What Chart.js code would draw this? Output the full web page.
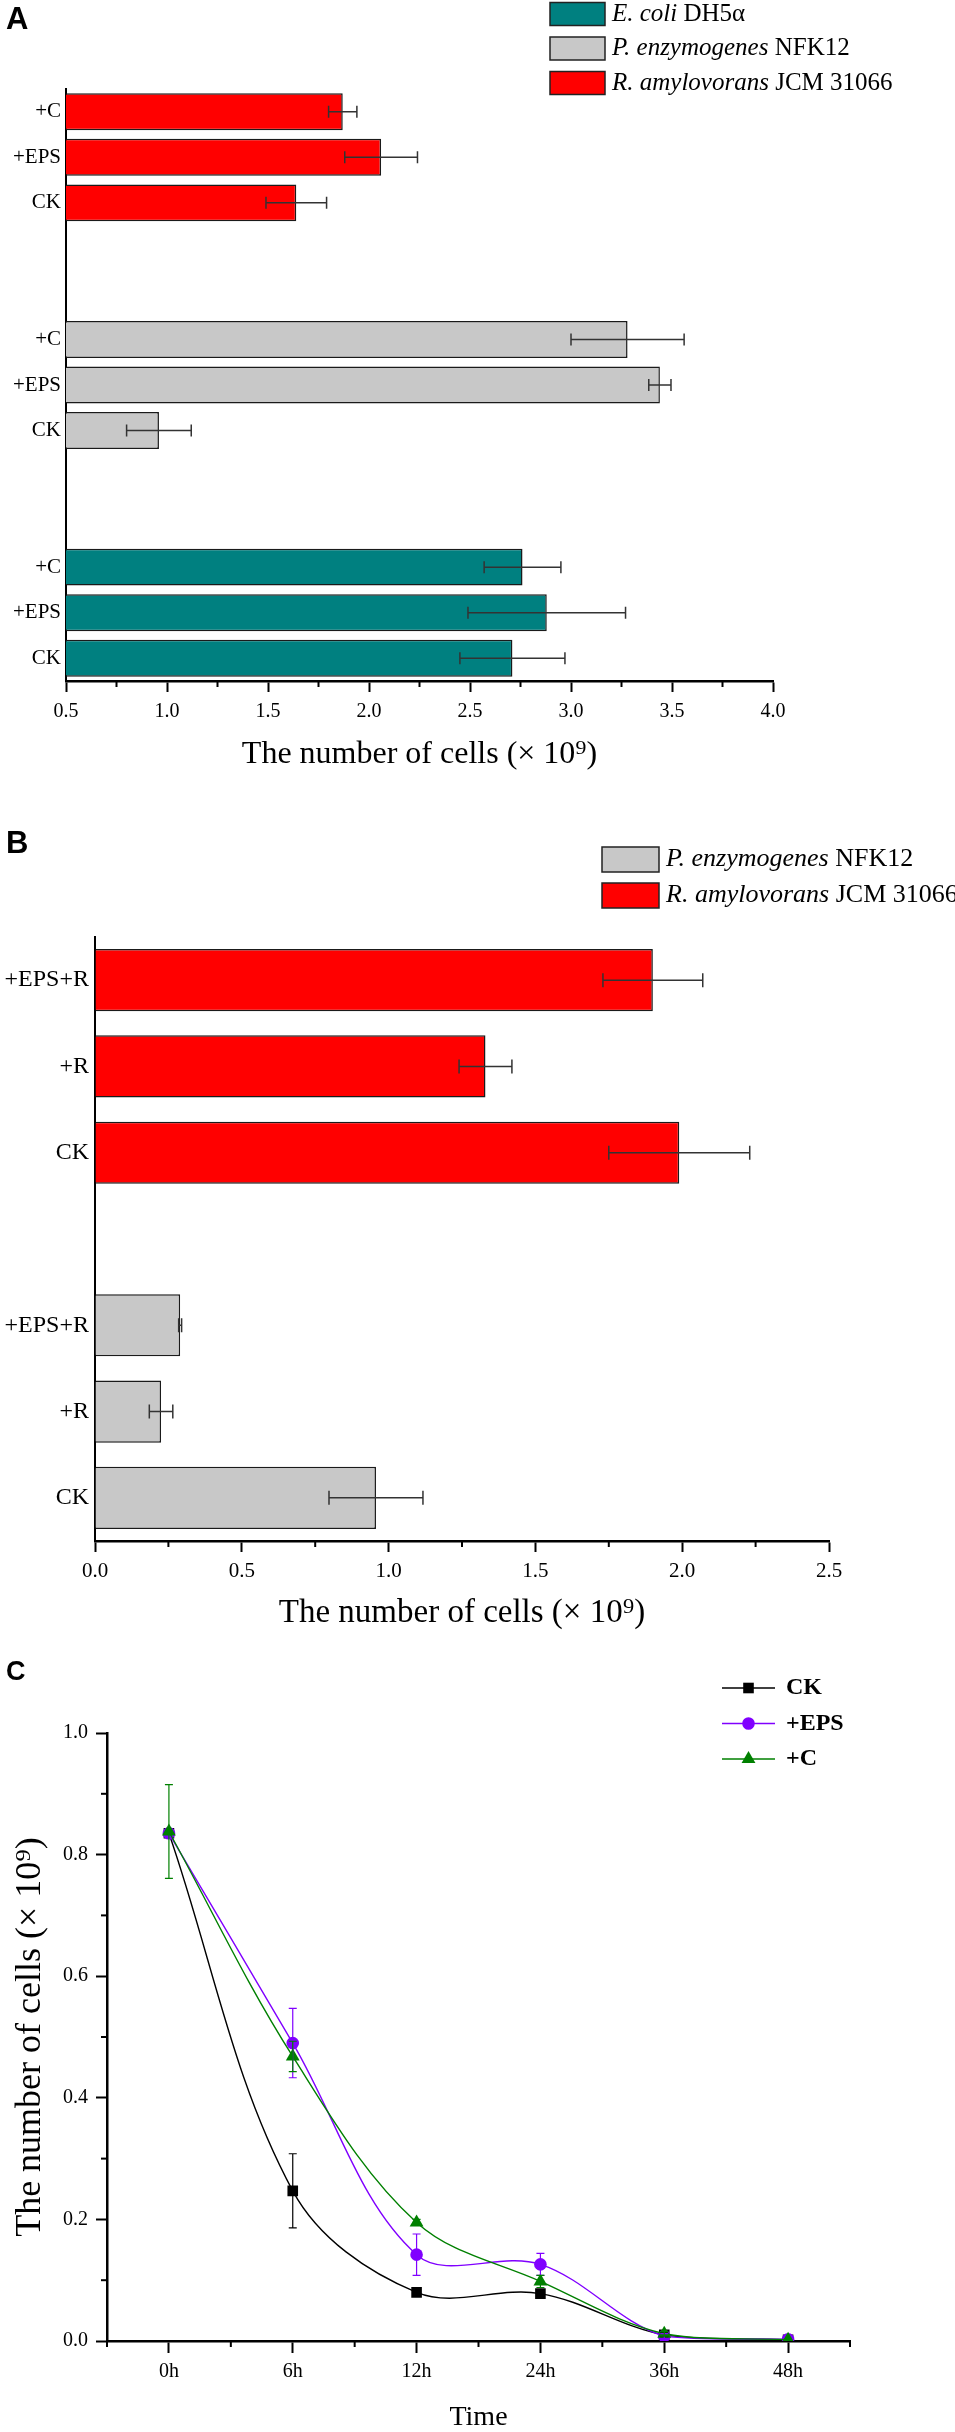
<!DOCTYPE html>
<html>
<head>
<meta charset="utf-8">
<script src="https://cdn.jsdelivr.net/npm/chart.js@4.4.1/dist/chart.umd.min.js"></script>
<style>
  body { margin: 0; background: #fff; width: 955px; height: 2432px; position: relative; overflow: hidden; }
  .panel { position: absolute; left: 0; }
  .panel canvas { display: block; }
  .tag { position: absolute; left: 6px; font-family: 'Liberation Sans', Arial, sans-serif; font-weight: bold; line-height: 1; color: #000; }
</style>
</head>
<body>
<div class="panel" style="top:0px"><canvas id="chartA" width="955" height="800"></canvas></div>
<div class="panel" style="top:800px"><canvas id="chartB" width="955" height="850"></canvas></div>
<div class="panel" style="top:1650px"><canvas id="chartC" width="955" height="782"></canvas></div>
<div class="tag" style="top:3px;font-size:31px">A</div>
<div class="tag" style="top:827px;font-size:31px">B</div>
<div class="tag" style="top:1658px;font-size:27px">C</div>
<script>
// --- 1. DATA ---
const nameEcoli = ['E. coli', ' DH5α'];
const nameEnzy = ['P. enzymogenes', ' NFK12'];
const nameAmylo = ['R. amylovorans', ' JCM 31066'];

// panel A, treatments listed top to bottom inside each strain group
const treatA = ['+C', '+EPS', 'CK'];
const amyloA = [1.87, 2.06, 1.64];
const amyloAErr = [0.07, 0.18, 0.15];
const enzyA = [3.28, 3.44, 0.96];
const enzyAErr = [0.28, 0.055, 0.16];
const ecoliA = [2.76, 2.88, 2.71];
const ecoliAErr = [0.19, 0.39, 0.26];
const xTicksA = [0.5, 1.0, 1.5, 2.0, 2.5, 3.0, 3.5, 4.0];

// panel B
const treatB = ['+EPS+R', '+R', 'CK'];
const amyloB = [1.90, 1.33, 1.99];
const amyloBErr = [0.17, 0.09, 0.24];
const enzyB = [0.29, 0.225, 0.957];
const enzyBErr = [0.005, 0.04, 0.16];
const xTicksB = [0.0, 0.5, 1.0, 1.5, 2.0, 2.5];

// panel C
const hours = ['0h', '6h', '12h', '24h', '36h', '48h'];
const ckC = [0.835, 0.247, 0.080, 0.078, 0.010, 0.002];
const ckCErr = [0, 0.061, 0.005, 0.005, 0.003, 0];
const epsC = [0.835, 0.490, 0.142, 0.126, 0.008, 0.003];
const epsCErr = [0, 0.057, 0.034, 0.018, 0.004, 0];
const cC = [0.838, 0.468, 0.195, 0.098, 0.012, 0.002];
const cCErr = [0.077, 0.025, 0.005, 0.010, 0.004, 0];
const yTicksC = [0.0, 0.2, 0.4, 0.6, 0.8, 1.0];

const SERIF = '"Liberation Serif", "Times New Roman", serif';
Chart.defaults.color = '#000';
Chart.defaults.font.family = SERIF;
const serif = (size, extra) => Object.assign({ family: SERIF, size: size }, extra || {});

// --- 2. HELPERS ---
// spread strain groups over category slots with empty slots in between
function buildSlots(treat, groups, gap) {
  const labels = [];
  const series = groups.map(() => ({ data: [], err: [] }));
  groups.forEach((g, gi) => {
    if (gi > 0) {
      for (let k = 0; k < gap; k++) {
        labels.push('');
        series.forEach(s => { s.data.push(null); s.err.push(null); });
      }
    }
    treat.forEach((t, ti) => {
      labels.push(t);
      series.forEach((s, si) => {
        s.data.push(si === gi ? g.values[ti] : null);
        s.err.push(si === gi ? g.errors[ti] : null);
      });
    });
  });
  return { labels, series };
}

const errorBars = {
  id: 'errorBars',
  afterDatasetsDraw(chart, args, o) {
    const ctx = chart.ctx;
    const horiz = chart.options.indexAxis === 'y';
    const vScale = horiz ? chart.scales.x : chart.scales.y;
    chart.data.datasets.forEach((ds, di) => {
      if (!ds.errors) return;
      const meta = chart.getDatasetMeta(di);
      ctx.save();
      ctx.strokeStyle = ds.errorColor || '#333';
      ctx.lineWidth = o.width || 1.5;
      meta.data.forEach((el, i) => {
        const v = ds.data[i], e = ds.errors[i];
        if (v == null || !e) return;
        const lo = vScale.getPixelForValue(v - e);
        const hi = vScale.getPixelForValue(v + e);
        const c = horiz ? el.y : el.x;
        const cap = o.cap || 5;
        ctx.beginPath();
        if (horiz) {
          ctx.moveTo(lo, c); ctx.lineTo(hi, c);
          ctx.moveTo(lo, c - cap); ctx.lineTo(lo, c + cap);
          ctx.moveTo(hi, c - cap); ctx.lineTo(hi, c + cap);
        } else {
          ctx.moveTo(c, lo); ctx.lineTo(c, hi);
          ctx.moveTo(c - cap, lo); ctx.lineTo(c + cap, lo);
          ctx.moveTo(c - cap, hi); ctx.lineTo(c + cap, hi);
        }
        ctx.stroke();
      });
      ctx.restore();
    });
  }
};

const minorTicks = {
  id: 'minorTicks',
  afterDraw(chart, args, o) {
    const ctx = chart.ctx;
    ctx.save();
    ctx.strokeStyle = '#000';
    ctx.lineWidth = o.width || 1.5;
    (o.list || []).forEach(m => {
      const s = chart.scales[m.axis];
      m.values.forEach(v => {
        const p = s.getPixelForValue(v);
        ctx.beginPath();
        if (s.isHorizontal()) { ctx.moveTo(p, s.top); ctx.lineTo(p, s.top + m.len); }
        else { ctx.moveTo(s.right, p); ctx.lineTo(s.right - m.len, p); }
        ctx.stroke();
      });
    });
    ctx.restore();
  }
};

const boxLegend = {
  id: 'boxLegend',
  afterDraw(chart, args, o) {
    if (!o.order) return;
    const ctx = chart.ctx;
    ctx.save();
    ctx.textBaseline = 'middle';
    o.order.forEach((di, row) => {
      const ds = chart.data.datasets[di];
      const yc = o.y + row * o.pitch;
      ctx.fillStyle = ds.backgroundColor;
      ctx.fillRect(o.x, yc - o.boxH / 2, o.boxW, o.boxH);
      ctx.strokeStyle = '#222';
      ctx.lineWidth = 1.5;
      ctx.strokeRect(o.x, yc - o.boxH / 2, o.boxW, o.boxH);
      let tx = o.x + o.boxW + o.gap;
      ctx.fillStyle = '#000';
      ds.nameParts.forEach((p, pi) => {
        ctx.font = (pi === 0 ? 'italic ' : '') + o.size + 'px ' + SERIF;
        ctx.fillText(p, tx, yc);
        tx += ctx.measureText(p).width;
      });
    });
    ctx.restore();
  }
};

function drawMarker(ctx, style, x, y, r) {
  ctx.beginPath();
  if (style === 'rect') {
    const s = r * Math.SQRT1_2;
    ctx.rect(x - s, y - s, 2 * s, 2 * s);
  } else if (style === 'triangle') {
    ctx.moveTo(x, y - r);
    ctx.lineTo(x + r * 0.866, y + r * 0.5);
    ctx.lineTo(x - r * 0.866, y + r * 0.5);
    ctx.closePath();
  } else {
    ctx.arc(x, y, r, 0, Math.PI * 2);
  }
  ctx.fill();
}

const lineLegend = {
  id: 'lineLegend',
  afterDraw(chart, args, o) {
    if (!o.x) return;
    const ctx = chart.ctx;
    ctx.save();
    ctx.textBaseline = 'middle';
    chart.data.datasets.forEach((ds, row) => {
      const yc = o.y + row * o.pitch;
      ctx.strokeStyle = ds.borderColor;
      ctx.lineWidth = 1.5;
      ctx.beginPath();
      ctx.moveTo(o.x, yc); ctx.lineTo(o.x + o.len, yc);
      ctx.stroke();
      ctx.fillStyle = ds.borderColor;
      drawMarker(ctx, ds.pointStyle, o.x + o.len / 2, yc, ds.pointRadius);
      ctx.fillStyle = '#000';
      ctx.font = 'bold ' + o.size + 'px ' + SERIF;
      ctx.fillText(ds.label, o.x + o.len + o.gap, yc);
    });
    ctx.restore();
  }
};

function barDataset(parts, color, slot) {
  return {
    label: parts.join(''),
    nameParts: parts,
    data: slot.data,
    errors: slot.err,
    backgroundColor: color,
    borderColor: '#1a1a1a',
    borderWidth: 1.5,
    grouped: false,
    categoryPercentage: 1.0
  };
}

function valueAxis(tickList, fontSize, pad, title, titleSize, titlePad, boxH) {
  return {
    type: 'linear',
    min: tickList[0],
    max: tickList[tickList.length - 1],
    afterBuildTicks: s => { s.ticks = tickList.map(v => ({ value: v })); },
    afterFit: s => { s.height = boxH; },
    grid: { drawOnChartArea: false, tickLength: 11, tickWidth: 2, tickColor: '#000' },
    border: { display: true, color: '#000', width: 2.5 },
    ticks: { font: serif(fontSize), padding: pad, callback: v => Number(v).toFixed(1) },
    title: { display: true, text: title, font: serif(titleSize), padding: { top: 0, bottom: titlePad } }
  };
}

function categoryAxis(width, fontSize, pad) {
  return {
    afterFit: s => { s.width = width; },
    grid: { display: false, drawTicks: false },
    border: { display: true, color: '#000', width: 2 },
    ticks: { font: serif(fontSize), padding: pad, autoSkip: false }
  };
}

// --- 3. PANEL A ---
const slotsA = buildSlots(treatA, [
  { values: amyloA, errors: amyloAErr },
  { values: enzyA, errors: enzyAErr },
  { values: ecoliA, errors: ecoliAErr }
], 2);

new Chart(document.getElementById('chartA'), {
  type: 'bar',
  data: {
    labels: slotsA.labels,
    datasets: [
      barDataset(nameEcoli, '#008080', slotsA.series[2]),
      barDataset(nameEnzy, '#c8c8c8', slotsA.series[1]),
      barDataset(nameAmylo, '#ff0000', slotsA.series[0])
    ].map(d => Object.assign(d, { barPercentage: 0.81 }))
  },
  options: {
    indexAxis: 'y',
    responsive: false,
    animation: false,
    layout: { padding: { left: 0, right: 182, top: 89, bottom: 0 } },
    scales: {
      x: valueAxis(xTicksA, 20, 8, 'The number of cells (× 10⁹)', 32, 26, 119),
      y: categoryAxis(66, 21, 5)
    },
    plugins: {
      legend: { display: false },
      tooltip: { enabled: false },
      errorBars: { width: 1.5, cap: 6 },
      minorTicks: { width: 2, list: [{ axis: 'x', len: 6, values: [0.75, 1.25, 1.75, 2.25, 2.75, 3.25, 3.75] }] },
      boxLegend: { order: [0, 1, 2], x: 550, y: 14, pitch: 34.5, boxW: 55, boxH: 23, gap: 7, size: 25 }
    }
  },
  plugins: [errorBars, minorTicks, boxLegend]
});

// --- 4. PANEL B ---
const slotsB = buildSlots(treatB, [
  { values: amyloB, errors: amyloBErr },
  { values: enzyB, errors: enzyBErr }
], 1);

new Chart(document.getElementById('chartB'), {
  type: 'bar',
  data: {
    labels: slotsB.labels,
    datasets: [
      barDataset(nameEnzy, '#c8c8c8', slotsB.series[1]),
      barDataset(nameAmylo, '#ff0000', slotsB.series[0])
    ].map(d => Object.assign(d, { barPercentage: 0.72 }))
  },
  options: {
    indexAxis: 'y',
    responsive: false,
    animation: false,
    layout: { padding: { left: 0, right: 126, top: 137, bottom: 0 } },
    scales: {
      x: valueAxis(xTicksB, 21, 7, 'The number of cells (× 10⁹)', 33, 17, 109),
      y: categoryAxis(95, 24, 6)
    },
    plugins: {
      legend: { display: false },
      tooltip: { enabled: false },
      errorBars: { width: 1.5, cap: 7 },
      minorTicks: { width: 2, list: [{ axis: 'x', len: 6, values: [0.25, 0.75, 1.25, 1.75, 2.25] }] },
      boxLegend: { order: [0, 1], x: 602, y: 59.5, pitch: 36, boxW: 57, boxH: 25, gap: 7, size: 26 }
    }
  },
  plugins: [errorBars, minorTicks, boxLegend]
});

// --- 5. PANEL C ---
function lineDataset(label, values, errs, color, style, radius, order) {
  return {
    label: label,
    data: values,
    errors: errs,
    errorColor: color,
    borderColor: color,
    backgroundColor: color,
    pointBackgroundColor: color,
    pointBorderColor: color,
    pointBorderWidth: 0,
    pointStyle: style,
    pointRadius: radius,
    borderWidth: 1.4,
    tension: 0.35,
    fill: false,
    order: order
  };
}

new Chart(document.getElementById('chartC'), {
  type: 'line',
  data: {
    labels: hours,
    datasets: [
      lineDataset('CK', ckC, ckCErr, '#000000', 'rect', 7.5, 3),
      lineDataset('+EPS', epsC, epsCErr, '#8000ff', 'circle', 6.3, 2),
      lineDataset('+C', cC, cCErr, '#008000', 'triangle', 8, 1)
    ]
  },
  options: {
    responsive: false,
    animation: false,
    layout: { padding: { left: 0, right: 105, top: 83, bottom: 0 } },
    scales: {
      x: {
        type: 'category',
        offset: true,
        afterFit: s => { s.height = 91; },
        grid: { drawOnChartArea: false, offset: false, tickLength: 12, tickWidth: 2, tickColor: '#000' },
        border: { display: true, color: '#000', width: 2.5 },
        ticks: { font: serif(20), padding: 7 },
        title: { display: true, text: 'Time', font: serif(28, { lineHeight: 1.0 }), padding: { top: 0, bottom: 0 } }
      },
      y: {
        type: 'linear',
        min: yTicksC[0],
        max: yTicksC[yTicksC.length - 1],
        afterBuildTicks: s => { s.ticks = yTicksC.map(v => ({ value: v })); },
        afterFit: s => { s.width = 107; },
        grid: { drawOnChartArea: false, tickLength: 11, tickWidth: 2, tickColor: '#000' },
        border: { display: true, color: '#000', width: 2.5 },
        ticks: { font: serif(20), padding: 8, callback: v => Number(v).toFixed(1) },
        title: { display: true, text: 'The number of cells (× 10⁹)', font: serif(36), padding: { top: 9, bottom: 0 } }
      }
    },
    plugins: {
      legend: { display: false },
      tooltip: { enabled: false },
      errorBars: { width: 1.2, cap: 4 },
      minorTicks: {
        width: 2,
        list: [
          { axis: 'y', len: 6, values: [0.1, 0.3, 0.5, 0.7, 0.9] },
          { axis: 'x', len: 6, values: [-0.5, 0.5, 1.5, 2.5, 3.5, 4.5, 5.5] }
        ]
      },
      lineLegend: { x: 722, y: 38, pitch: 35.5, len: 53, gap: 11, size: 24 }
    }
  },
  plugins: [errorBars, minorTicks, lineLegend]
});
</script>
</body>
</html>
